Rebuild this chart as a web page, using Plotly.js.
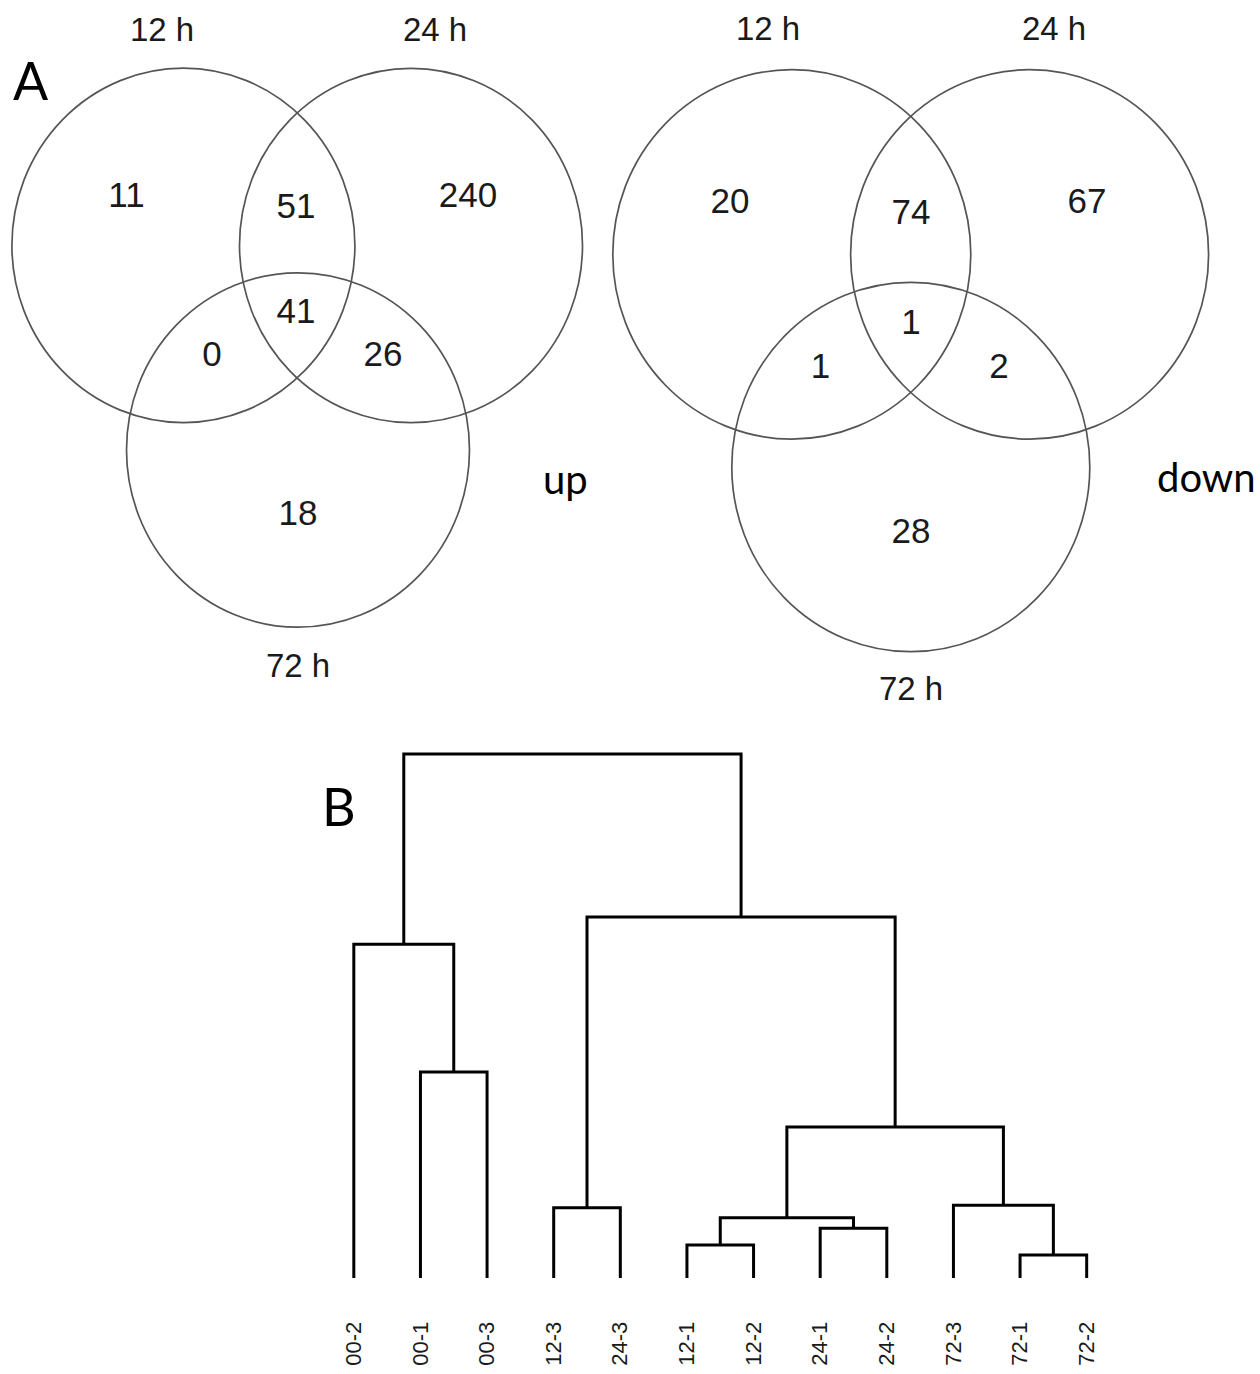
<!DOCTYPE html>
<html>
<head>
<meta charset="utf-8">
<script src="https://cdn.plot.ly/plotly-3.0.1.min.js"></script>
<style>
  html, body { margin: 0; padding: 0; background: #fff; }
  #chart { width: 1260px; height: 1374px; }
</style>
</head>
<body>
<div id="chart"></div>
<script>
// Sampling times compared in the Venn diagrams
const setNames = ['12 h', '24 h', '72 h'];
// Venn regions: only 12 h, only 24 h, only 72 h, 12∩24, 12∩72, 24∩72, 12∩24∩72
const regionKeys = ['12', '24', '72', '12+24', '12+72', '24+72', '12+24+72'];
const upCounts = [11, 240, 18, 51, 0, 26, 41];
const downCounts = [20, 67, 28, 74, 1, 2, 1];
const directionNames = ['up', 'down'];
const panelLetters = ['A', 'B'];

// Sample clustering, hclust-style merge list (negative = leaf number, positive = earlier merge)
const leafLabels = ['00-2', '00-1', '00-3', '12-3', '24-3', '12-1', '12-2', '24-1', '24-2', '72-3', '72-1', '72-2'];
const mergeA = [-11, -6, -8, 2, -4, -10, 4, -2, -1, 5, 9];
const mergeB = [-12, -7, -9, 3, -5, 1, 6, -3, 8, 7, 10];
const mergeHeight = [4.4, 6.3, 9.5, 11.5, 13.4, 13.9, 28.8, 39.3, 63.7, 68.9, 100];

// ---- Venn geometry (page pixel coordinates) ----
const vennPanels = [
  {
    counts: upCounts, direction: directionNames[0],
    cx: [183.4, 411, 298], cy: [245.4, 245.5, 450], rx: 171.5, ry: 177.2,
    setPos: [[162, 33], [435, 33], [298, 669]],
    regionPos: [[126.5, 198], [468, 198], [298, 516], [296, 209.5], [212, 357], [383, 357], [296, 314]],
    dirPos: [541, 479]
  },
  {
    counts: downCounts, direction: directionNames[1],
    cx: [791.8, 1029.6, 910.8], cy: [254.4, 254.4, 467], rx: 179, ry: 184.7,
    setPos: [[768, 32], [1054, 32], [911, 692]],
    regionPos: [[730, 204], [1087, 204], [911, 534], [911, 215.6], [820.6, 369], [999, 369], [911, 325.7]],
    dirPos: [1155, 477]
  }
];

const numFont = { family: 'Liberation Sans, Arial, sans-serif', size: 35, color: '#1a1a1a' };
const setFont = { family: 'Liberation Sans, Arial, sans-serif', size: 33, color: '#1a1a1a' };
const sansFont = 'Lato, "Open Sans", sans-serif';

const traces = [];
const shapes = [];
const annotations = [];

vennPanels.forEach(p => {
  for (let i = 0; i < setNames.length; i++) {
    shapes.push({
      type: 'circle', xref: 'x', yref: 'y',
      x0: p.cx[i] - p.rx, x1: p.cx[i] + p.rx,
      y0: p.cy[i] - p.ry, y1: p.cy[i] + p.ry,
      line: { color: '#555', width: 1.7 }, fillcolor: 'rgba(0,0,0,0)'
    });
  }
  traces.push({
    type: 'scatter', mode: 'text', xaxis: 'x', yaxis: 'y',
    x: p.regionPos.map(d => d[0]), y: p.regionPos.map(d => d[1]),
    text: p.counts.map(String), customdata: regionKeys,
    textposition: 'middle center', textfont: numFont,
    cliponaxis: false, hoverinfo: 'skip', showlegend: false
  });
  traces.push({
    type: 'scatter', mode: 'text', xaxis: 'x', yaxis: 'y',
    x: p.setPos.map(d => d[0]), y: p.setPos.map(d => d[1]),
    text: setNames, textposition: 'middle center', textfont: setFont,
    cliponaxis: false, hoverinfo: 'skip', showlegend: false
  });
  annotations.push({
    xref: 'x', yref: 'y', x: p.dirPos[0], y: p.dirPos[1],
    text: p.direction, showarrow: false, xanchor: 'left', yanchor: 'middle',
    font: { family: sansFont, size: 40, color: '#000' }
  });
});

annotations.push({
  xref: 'x', yref: 'y', x: 31, y: 80, text: panelLetters[0], showarrow: false,
  xanchor: 'center', yanchor: 'middle', font: { family: sansFont, size: 52, color: '#000' }
});
annotations.push({
  xref: 'x', yref: 'y', x: 339, y: 806, text: panelLetters[1], showarrow: false,
  xanchor: 'center', yanchor: 'middle', font: { family: sansFont, size: 52, color: '#000' }
});

// ---- Dendrogram built from the merge list ----
const nodes = [];
function nodeOf(id) {
  return id < 0 ? { x: -id - 1, y: 0 } : nodes[id - 1];
}
const dx = [], dy = [];
for (let k = 0; k < mergeA.length; k++) {
  const a = nodeOf(mergeA[k]);
  const b = nodeOf(mergeB[k]);
  const h = mergeHeight[k];
  dx.push(a.x, a.x, b.x, b.x, null);
  dy.push(a.y, h, h, b.y, null);
  nodes.push({ x: (a.x + b.x) / 2, y: h });
}
traces.push({
  type: 'scatter', mode: 'lines', xaxis: 'x2', yaxis: 'y2',
  x: dx, y: dy, line: { color: '#000', width: 3 },
  hoverinfo: 'skip', showlegend: false
});

const layout = {
  width: 1260, height: 1374,
  margin: { l: 0, r: 0, t: 0, b: 0, pad: 0 },
  paper_bgcolor: '#fff', plot_bgcolor: 'rgba(0,0,0,0)',
  showlegend: false,
  xaxis: { domain: [0, 1], range: [0, 1260], visible: false, fixedrange: true },
  yaxis: { domain: [0, 1], range: [1374, 0], visible: false, fixedrange: true },
  xaxis2: {
    domain: [0.25437, 0.88889], range: [-0.5, 11.5], anchor: 'y2',
    tickmode: 'array', tickvals: leafLabels.map((_, i) => i), ticktext: leafLabels,
    tickangle: -90, ticks: '', showgrid: false, zeroline: false, showline: false,
    ticklabelstandoff: 33,
    tickfont: { family: 'Liberation Sans, Arial, sans-serif', size: 22, color: '#1a1a1a' },
    fixedrange: true
  },
  yaxis2: { domain: [0.06606, 0.45506], range: [-1, 101], anchor: 'x2', visible: false, fixedrange: true },
  shapes: shapes,
  annotations: annotations
};

Plotly.newPlot('chart', traces, layout, { staticPlot: true, displayModeBar: false });
</script>
</body>
</html>
